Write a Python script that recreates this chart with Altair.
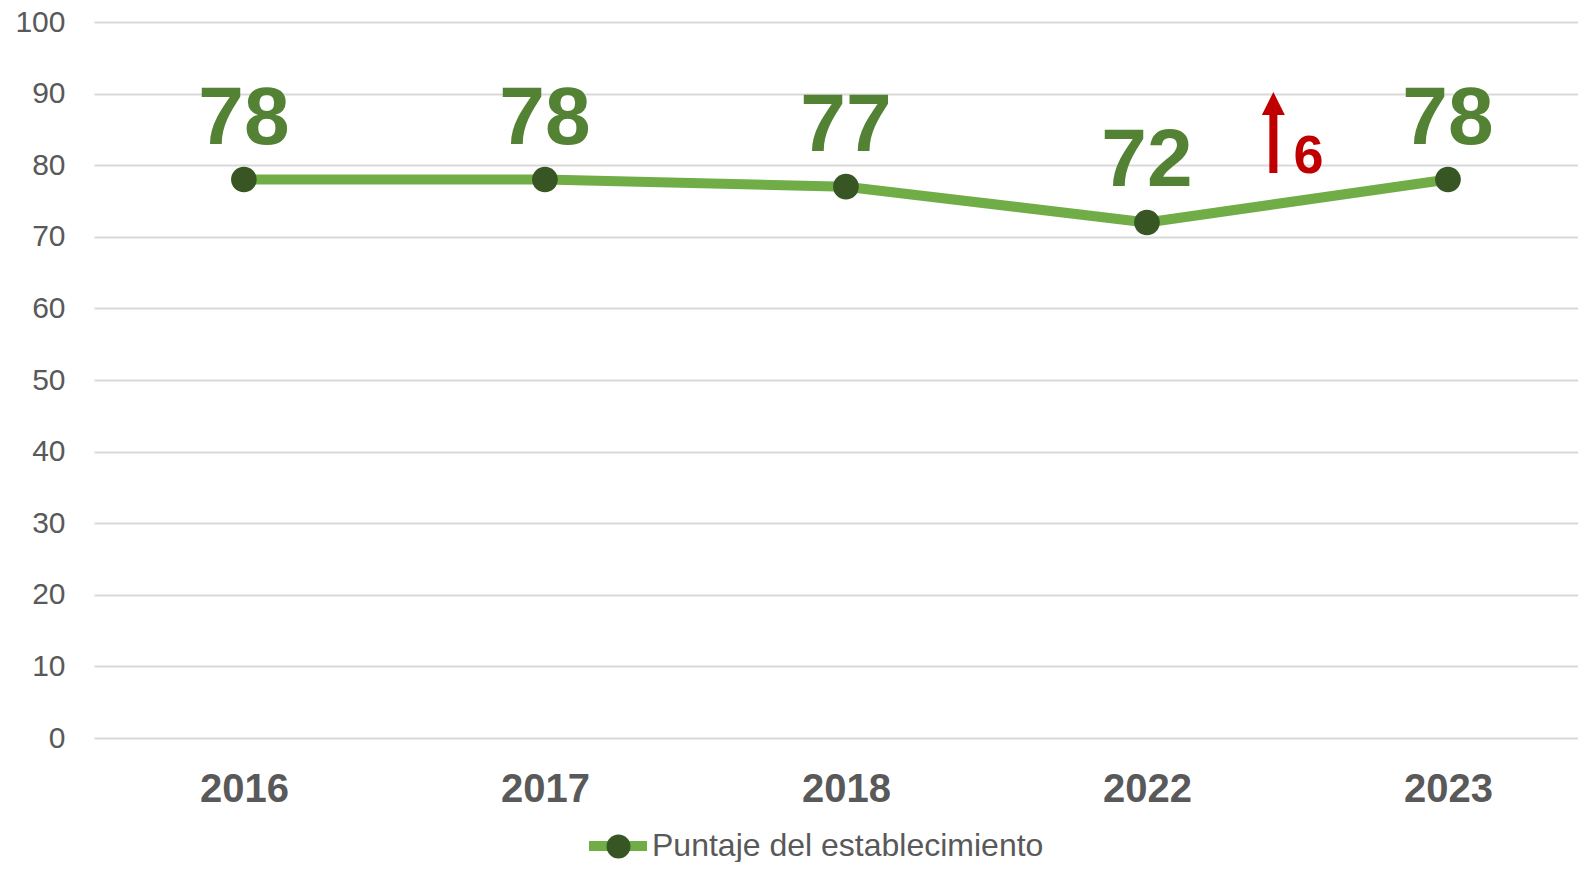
import altair as alt
import pandas as pd

years = ["2016", "2017", "2018", "2022", "2023"]
scores = [78, 78, 77, 72, 78]
series_name = "Puntaje del establecimiento"
y_ticks = [0, 10, 20, 30, 40, 50, 60, 70, 80, 90, 100]

# annotation (arrow between 2022 and 2023)
arrow_x = [3.42]
arrow_y = [84.57]
change_x = [3.537]
change_y = [78.9]

FONT = "Liberation Sans"
GRAY = "#595959"

df = pd.DataFrame({
    "idx": list(range(len(years))),
    "year": years,
    "value": scores,
    "series": [series_name] * len(years),
})
arrow_df = pd.DataFrame({"x": arrow_x, "y": arrow_y})
change_df = pd.DataFrame({"x": change_x, "y": change_y,
                          "label": [str(scores[-1] - scores[-2])]})

label_expr = "[" + ",".join(f"'{y}'" for y in years) + "][datum.value]"

xscale = alt.Scale(domain=[-0.498, 4.432], nice=False, zero=False)
yscale = alt.Scale(domain=[0, 100], nice=False)

x_enc = alt.X("idx:Q", scale=xscale, title=None,
              axis=alt.Axis(values=list(range(len(years))), labelExpr=label_expr,
                            grid=False, domain=False, ticks=False, tickSize=0,
                            labelFontSize=40, labelFontWeight="bold", labelColor=GRAY,
                            labelFont=FONT, labelPadding=51.5, labelBaseline="middle"))
y_enc = alt.Y("value:Q", scale=yscale, title=None,
              axis=alt.Axis(values=y_ticks, grid=True, gridColor="#D9D9D9", gridWidth=2,
                            domain=False, ticks=False, tickSize=0,
                            labelFontSize=30, labelColor=GRAY, labelFont=FONT,
                            labelPadding=29, labelBaseline="middle"))

line = alt.Chart(df).mark_line(strokeWidth=10, strokeJoin="round").encode(
    x=x_enc, y=y_enc,
    color=alt.Color("series:N", scale=alt.Scale(range=["#70AD47"]),
                    legend=alt.Legend(orient="none", legendX=490, legendY=790,
                                      symbolType="stroke", symbolSize=3364,
                                      symbolStrokeWidth=10, labelFontSize=32,
                                      labelColor=GRAY, labelFont=FONT, title=None,
                                      padding=0, labelOffset=0, labelLimit=800)),
)

points = alt.Chart(df).mark_point(filled=True, size=660, opacity=1, strokeWidth=0).encode(
    x=alt.X("idx:Q", scale=xscale),
    y=alt.Y("value:Q", scale=yscale),
    fill=alt.Fill("series:N", scale=alt.Scale(range=["#375623"]),
                  legend=alt.Legend(orient="none", legendX=512.5, legendY=812.5,
                                    symbolType="circle", symbolSize=573,
                                    symbolStrokeWidth=0, symbolOpacity=1,
                                    labelExpr="''", title=None, padding=0)),
)

labels = alt.Chart(df).mark_text(dy=-36, baseline="alphabetic", align="center",
                                 fontSize=82, fontWeight="bold", color="#548235",
                                 font=FONT).encode(
    x=alt.X("idx:Q", scale=xscale),
    y=alt.Y("value:Q", scale=yscale),
    text=alt.Text("value:Q"),
)

arrow_path = ("M0,-1 L0.284,-0.432 L0.099,-0.432 L0.099,1 L-0.099,1 "
              "L-0.099,-0.432 L-0.284,-0.432 Z")
arrow = alt.Chart(arrow_df).mark_point(shape=arrow_path, size=6561, filled=True,
                                       color="#C00000", opacity=1, strokeWidth=0).encode(
    x=alt.X("x:Q", scale=xscale),
    y=alt.Y("y:Q", scale=yscale),
)

change = alt.Chart(change_df).mark_text(baseline="alphabetic", align="center",
                                        fontSize=54, fontWeight="bold",
                                        color="#C00000", font=FONT).encode(
    x=alt.X("x:Q", scale=xscale),
    y=alt.Y("y:Q", scale=yscale),
    text="label:N",
)

chart = alt.layer(line, points, labels, arrow, change).properties(
    width=1484, height=716,
    autosize=alt.AutoSizeParams(type="none"),
    padding={"left": 86, "top": 14, "right": 0, "bottom": 124},
    background="white",
).configure_view(stroke=None)

chart.save("out.html", embed_options={"renderer": "svg", "actions": False})
